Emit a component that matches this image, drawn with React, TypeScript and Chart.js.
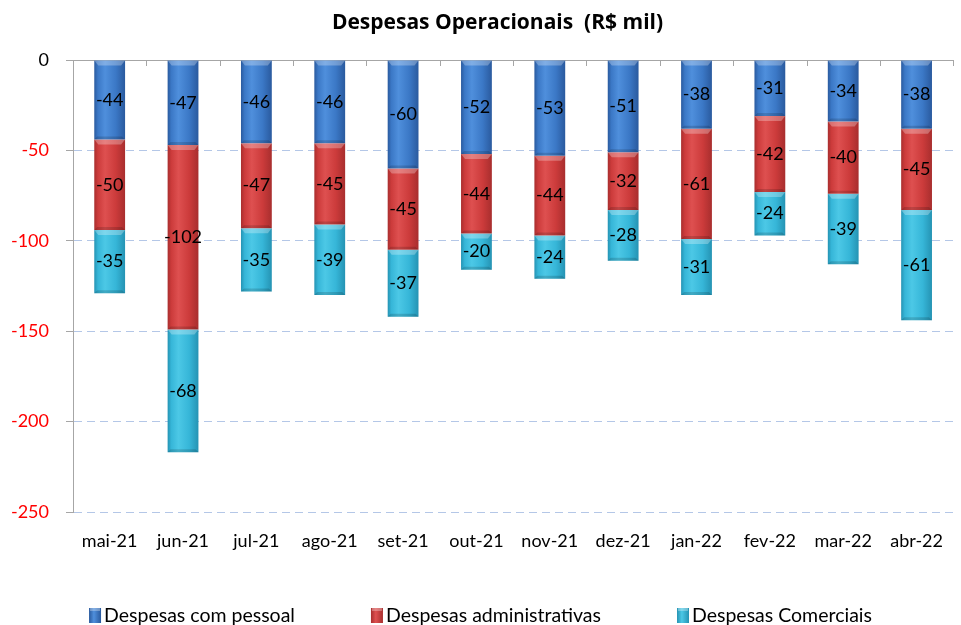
import React, { useEffect, useRef } from 'react';
import { Chart, registerables } from 'chart.js';
Chart.register(...registerables);

const categories = ['mai-21', 'jun-21', 'jul-21', 'ago-21', 'set-21', 'out-21', 'nov-21', 'dez-21', 'jan-22', 'fev-22', 'mar-22', 'abr-22'];
const pessoal = [-44, -47, -46, -46, -60, -52, -53, -51, -38, -31, -34, -38];
const administrativas = [-50, -102, -47, -45, -45, -44, -44, -32, -61, -42, -40, -45];
const comerciais = [-35, -68, -35, -39, -37, -20, -24, -28, -31, -24, -39, -61];
const yTicks = [0, -50, -100, -150, -200, -250];
const seriesNames = ['Despesas com pessoal', 'Despesas administrativas', 'Despesas Comerciais'];
const chartTitle = 'Despesas Operacionais  (R$ mil)';

const FONT = 'Lato';
const BAR_PCT = 0.42;
const TITLE_SHIFT = 17;
const CANVAS_H = 625;
const PLOT_BOTTOM = 512;

const palettes: string[][] = [
  ['#2a5a9e', '#3b78c6', '#4f8fdc'],
  ['#a82e2e', '#cc3b3b', '#de5050'],
  ['#2593b3', '#36b6d8', '#4cc8e6'],
];

function makeBg(pal: string[]) {
  return (c: any) => {
    const chart = c.chart;
    if (c.type !== 'data' || !chart.chartArea || !chart.scales.x) return pal[1];
    const xs = chart.scales.x;
    const cx = xs.getPixelForValue(c.dataIndex);
    const w = (xs.width / categories.length) * BAR_PCT;
    if (!isFinite(cx) || !isFinite(w) || w <= 0) return pal[1];
    const g = chart.ctx.createLinearGradient(cx - w / 2, 0, cx + w / 2, 0);
    g.addColorStop(0, pal[0]);
    g.addColorStop(0.12, pal[1]);
    g.addColorStop(0.35, pal[2]);
    g.addColorStop(0.7, pal[1]);
    g.addColorStop(1, pal[0]);
    return g;
  };
}

const titlePlugin = {
  id: 'customTitle',
  afterDraw(chart: any) {
    const ctx = chart.ctx;
    ctx.save();
    ctx.font = `bold 21px "Open Sans"`;
    ctx.fillStyle = '#000';
    ctx.textAlign = 'center';
    ctx.textBaseline = 'alphabetic';
    ctx.fillText(chartTitle, chart.width / 2 + TITLE_SHIFT, 29);
    ctx.restore();
  },
};

const legendPlugin = {
  id: 'customLegend',
  afterDraw(chart: any) {
    const ctx = chart.ctx;
    const boxW = 12;
    const boxH = 15;
    const textGap = 3;
    const itemGap = 76;
    const baseline = 622;
    ctx.save();
    ctx.font = `19.5px ${FONT}`;
    const widths = seriesNames.map((n) => boxW + textGap + ctx.measureText(n).width);
    const total = widths.reduce((a, b) => a + b, 0) + itemGap * (seriesNames.length - 1);
    let x = chart.width / 2 - total / 2;
    seriesNames.forEach((name, i) => {
      const pal = palettes[i];
      const g = ctx.createLinearGradient(x, 0, x + boxW, 0);
      g.addColorStop(0, pal[0]);
      g.addColorStop(0.4, pal[2]);
      g.addColorStop(1, pal[0]);
      ctx.fillStyle = g;
      ctx.fillRect(x, baseline - boxH + 1, boxW, boxH);
      ctx.fillStyle = 'rgba(255,255,255,0.3)';
      ctx.fillRect(x + 1, baseline - boxH + 1, boxW - 2, 3);
      ctx.fillStyle = '#000';
      ctx.textAlign = 'left';
      ctx.textBaseline = 'alphabetic';
      ctx.fillText(name, x + boxW + textGap, baseline);
      x += widths[i] + itemGap;
    });
    ctx.restore();
  },
};

const decorPlugin = {
  id: 'decor',
  afterDatasetsDraw(chart: any) {
    const ctx = chart.ctx;
    const area = chart.chartArea;
    chart.data.datasets.forEach((_ds: any, di: number) => {
      const meta = chart.getDatasetMeta(di);
      meta.data.forEach((el: any) => {
        const { x, y, base, width } = el.getProps(['x', 'y', 'base', 'width'], true);
        const top = Math.min(y, base);
        const bot = Math.max(y, base);
        const l = x - width / 2;
        const r = x + width / 2;
        ctx.save();
        ctx.fillStyle = 'rgba(255,255,255,0.28)';
        ctx.beginPath();
        ctx.moveTo(l, top);
        ctx.lineTo(r, top);
        ctx.lineTo(r - 4, top + 5);
        ctx.lineTo(l + 4, top + 5);
        ctx.closePath();
        ctx.fill();
        ctx.fillStyle = 'rgba(0,0,0,0.15)';
        ctx.beginPath();
        ctx.moveTo(l, bot);
        ctx.lineTo(r, bot);
        ctx.lineTo(r - 3, bot - 3);
        ctx.lineTo(l + 3, bot - 3);
        ctx.closePath();
        ctx.fill();
        ctx.restore();
      });
    });
    ctx.save();
    ctx.font = `18px ${FONT}`;
    ctx.fillStyle = '#000';
    ctx.textAlign = 'center';
    ctx.textBaseline = 'middle';
    chart.data.datasets.forEach((ds: any, di: number) => {
      const meta = chart.getDatasetMeta(di);
      meta.data.forEach((el: any, i: number) => {
        const { x, y, base } = el.getProps(['x', 'y', 'base'], true);
        ctx.fillText(String(ds.data[i]), x, (y + base) / 2);
      });
    });
    ctx.restore();
    const xs = chart.scales.x;
    ctx.save();
    ctx.strokeStyle = '#a6a6a6';
    ctx.lineWidth = 1;
    for (let i = 0; i <= categories.length; i++) {
      const px = Math.round(xs.getPixelForValue(i - 0.5)) + 0.5;
      ctx.beginPath();
      ctx.moveTo(px, area.top);
      ctx.lineTo(px, area.top + 6);
      ctx.stroke();
    }
    ctx.restore();
  },
};

export default function App() {
  const ref = useRef<HTMLCanvasElement | null>(null);
  useEffect(() => {
    if (!ref.current) return;
    const seriesData = [pessoal, administrativas, comerciais];
    const chart = new Chart(ref.current, {
      type: 'bar',
      data: {
        labels: categories,
        datasets: seriesData.map((d, i) => ({
          label: seriesNames[i],
          data: d,
          backgroundColor: makeBg(palettes[i]),
          borderWidth: 0,
          barPercentage: BAR_PCT,
          categoryPercentage: 1,
        })),
      },
      options: {
        animation: false,
        responsive: true,
        maintainAspectRatio: false,
        layout: { padding: { left: 0, right: 1, top: 60, bottom: 0 } },
        plugins: {
          title: { display: false },
          legend: { display: false },
          tooltip: { enabled: false },
        },
        scales: {
          x: {
            stacked: true,
            offset: true,
            grid: { display: false, drawTicks: false },
            border: { display: false },
            ticks: { color: '#000', font: { family: FONT, size: 18 }, padding: 18, maxRotation: 0, autoSkip: false },
            afterFit: (s: any) => { s.height = CANVAS_H - PLOT_BOTTOM; },
          },
          y: {
            stacked: true,
            min: -250,
            max: 0,
            afterBuildTicks: (s: any) => { s.ticks = yTicks.map((v) => ({ value: v })); },
            afterFit: (s: any) => { s.width = 73; },
            ticks: {
              color: (c: any) => (c.tick && c.tick.value === 0 ? '#000' : '#ff0000'),
              font: { family: FONT, size: 18 },
              padding: 17,
            },
            grid: {
              color: (c: any) => (c.tick && c.tick.value === 0 ? '#a6a6a6' : '#b4c7e7'),
              tickColor: '#a6a6a6',
              tickLength: 7,
              lineWidth: 1,
            },
            border: {
              display: true,
              color: '#a6a6a6',
              dash: (c: any) => (c.tick && c.tick.value !== 0 ? [8, 5] : []),
            },
          },
        },
      },
      plugins: [decorPlugin, titlePlugin, legendPlugin],
    } as any);
    return () => chart.destroy();
  }, []);
  return (
    <div style={{ position: 'fixed', left: 0, top: 0, width: 961, height: CANVAS_H, background: '#fff' }}>
      <canvas ref={ref} />
    </div>
  );
}
